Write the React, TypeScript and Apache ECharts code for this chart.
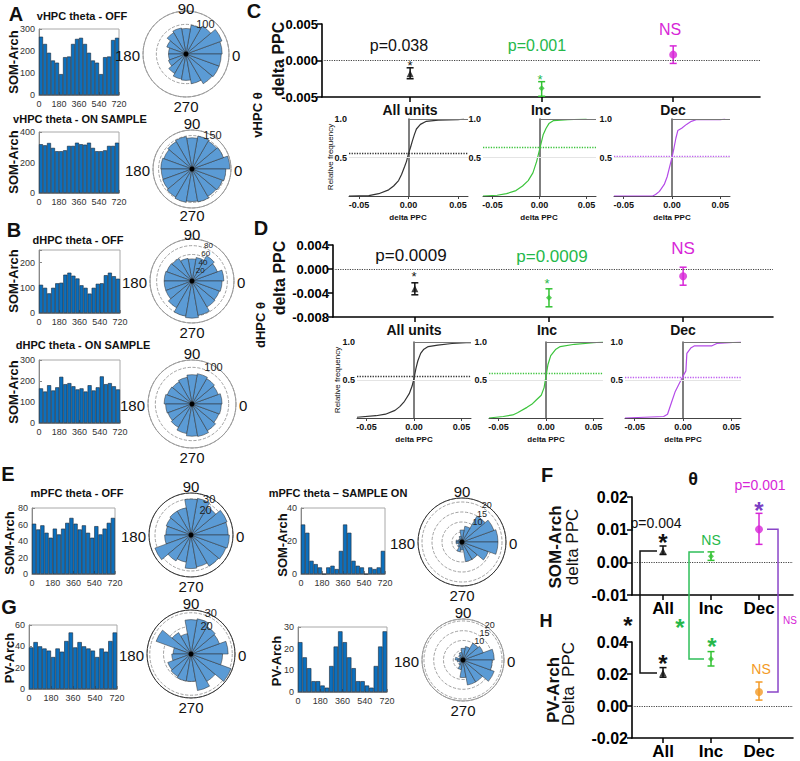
import React, { useEffect, useRef } from "react";
import * as echarts from "echarts";

const FONT = 'Arial, "Liberation Sans", Helvetica, sans-serif';

// ---------- histogram data (36° bins over 0-720) ----------
const binStarts = [0, 36, 72, 108, 144, 180, 216, 252, 288, 324, 360, 396, 432, 468, 504, 540, 576, 612, 648, 684];
const histA1 = [265, 232, 192, 157, 147, 95, 172, 175, 232, 255, 260, 232, 192, 157, 147, 95, 172, 175, 250, 260];
const histA2 = [320, 313, 328, 296, 274, 274, 280, 309, 309, 330, 320, 317, 330, 296, 274, 274, 280, 309, 309, 330];
const histB1 = [112, 100, 78, 100, 118, 120, 152, 160, 148, 137, 110, 100, 77, 100, 116, 118, 150, 160, 146, 136];
const histB2 = [165, 150, 180, 155, 170, 220, 185, 190, 175, 160, 165, 150, 180, 155, 170, 222, 185, 190, 175, 160];
const histE1 = [61, 54, 59, 50, 44, 55, 48, 55, 62, 68, 61, 54, 59, 50, 44, 58, 48, 55, 62, 68];
const histE2 = [30, 25, 8, 6, 4, 0, 4, 5, 3, 14, 30, 25, 8, 5, 4, 0, 4, 3, 4, 14];
const histG1 = [39, 44, 40, 38, 36, 30, 38, 35, 45, 53, 39, 44, 40, 38, 36, 30, 38, 35, 45, 53];
const histG2 = [23, 16, 11, 5, 5, 3, 2, 12, 21, 28, 23, 16, 11, 5, 5, 3, 2, 12, 21, 28];

// ---------- polar histogram data (20° bins) ----------
const roseBins = ["0", "20", "40", "60", "80", "100", "120", "140", "160", "180", "200", "220", "240", "260", "280", "300", "320", "340"];
const roseA1 = [122, 129, 109, 99, 86, 89, 83, 69, 59, 59, 63, 76, 86, 89, 102, 116, 119, 119];
const roseA2 = [170, 150, 145, 150, 140, 148, 142, 135, 140, 138, 140, 146, 152, 146, 150, 142, 146, 152];
const roseB1 = [72, 61, 66, 54, 50, 52, 59, 61, 63, 63, 63, 70, 81, 84, 79, 68, 66, 68];
const roseB2 = [82, 76, 80, 84, 80, 74, 70, 72, 76, 72, 70, 74, 82, 88, 90, 84, 78, 80];
const roseE1 = [31, 32, 27, 31, 30, 23, 23, 22, 21, 22, 32, 25, 23, 28, 27, 30, 31, 32];
const roseE2 = [18, 17, 15, 8, 6, 3, 2, 2, 3, 3, 2, 3, 5, 4, 10, 10, 14, 18];
const roseG1 = [27, 22, 23, 26, 25, 15, 18, 27, 13, 14, 18, 19, 20, 20, 27, 23, 31, 23];
const roseG2 = [16, 11, 10, 7, 6, 4, 3, 2, 4, 3, 2, 3, 5, 9, 13, 13, 17, 15];

// ---------- delta PPC summary (mean, lower, upper) ----------
const groups = ["All", "Inc", "Dec"];
const cMean = [-0.0018, -0.0038, 0.0008];
const cLo = [-0.0025, -0.0049, -0.0004];
const cHi = [-0.001, -0.0029, 0.002];
const dMean = [-0.0033, -0.0048, -0.0012];
const dLo = [-0.0043, -0.0063, -0.0027];
const dHi = [-0.0023, -0.0033, 0.0003];
const fMean = [0.0035, 0.0019, 0.0101];
const fLo = [0.0024, 0.0006, 0.0055];
const fHi = [0.005, 0.0032, 0.015];
const hMean = [0.0206, 0.0294, 0.0088];
const hLo = [0.018, 0.025, 0.0037];
const hHi = [0.024, 0.034, 0.015];

// ---------- cumulative distributions ----------
const cdfCAll = [[-0.06, 0], [-0.04, 0.005], [-0.03, 0.03], [-0.02, 0.08], [-0.015, 0.13], [-0.01, 0.2], [-0.007, 0.28], [-0.004, 0.38], [-0.002, 0.45], [0, 0.55], [0.002, 0.63], [0.004, 0.72], [0.006, 0.8], [0.008, 0.87], [0.012, 0.93], [0.018, 0.97], [0.03, 0.985], [0.05, 0.99], [0.056, 1]];
const cdfCInc = [[-0.06, 0], [-0.045, 0.01], [-0.035, 0.03], [-0.025, 0.07], [-0.018, 0.13], [-0.012, 0.2], [-0.007, 0.3], [-0.003, 0.45], [0, 0.6], [0.002, 0.7], [0.004, 0.8], [0.007, 0.88], [0.01, 0.94], [0.015, 0.98], [0.03, 0.99], [0.05, 1]];
const cdfCDec = [[-0.06, 0], [-0.02, 0], [-0.017, 0.02], [-0.013, 0.06], [-0.008, 0.15], [-0.005, 0.25], [-0.002, 0.4], [0, 0.5], [0.002, 0.62], [0.004, 0.75], [0.006, 0.85], [0.01, 0.88], [0.015, 0.93], [0.02, 0.97], [0.025, 0.99], [0.05, 0.99], [0.055, 1]];
const cdfDAll = [[-0.06, 0.01], [-0.04, 0.03], [-0.03, 0.05], [-0.02, 0.1], [-0.015, 0.15], [-0.01, 0.22], [-0.005, 0.32], [-0.002, 0.42], [0, 0.52], [0.002, 0.65], [0.004, 0.75], [0.007, 0.85], [0.01, 0.9], [0.015, 0.94], [0.025, 0.96], [0.04, 0.98], [0.055, 0.99], [0.06, 0.99]];
const cdfDInc = [[-0.06, 0], [-0.045, 0.02], [-0.035, 0.04], [-0.03, 0.07], [-0.02, 0.14], [-0.015, 0.18], [-0.01, 0.24], [-0.005, 0.3], [-0.002, 0.4], [0, 0.55], [0.002, 0.7], [0.005, 0.82], [0.01, 0.9], [0.015, 0.94], [0.03, 0.97], [0.05, 0.99], [0.06, 1]];
const cdfDDec = [[-0.06, 0], [-0.04, 0.01], [-0.02, 0.02], [-0.016, 0.05], [-0.012, 0.2], [-0.008, 0.35], [-0.004, 0.45], [0, 0.55], [0.003, 0.62], [0.004, 0.85], [0.008, 0.92], [0.012, 0.95], [0.03, 0.95], [0.035, 0.98], [0.06, 1]];
const medC = [0.55, 0.627, 0.523];
const medD = [0.553, 0.588, 0.535];
const cdfTicks = [-0.05, 0, 0.05];

const BLACK = "#111";
const GREEN = "#25b84a";
const GREEN_PT = "#33c233";
const MAGENTA = "#d726d7";
const PURPLE = "#8a45c8";
const ORANGE = "#f39a25";

export default function App() {
  const ref = useRef<HTMLDivElement>(null);
  useEffect(() => {
    const el = ref.current!;
    const chart = echarts.init(el, null, { renderer: "svg" });
    const grid: any[] = [];
    const xAxis: any[] = [];
    const yAxis: any[] = [];
    const series: any[] = [];
    const polar: any[] = [];
    const angleAxis: any[] = [];
    const radiusAxis: any[] = [];
    const graphic: any[] = [];

    const txt = (text: string, x: number, y: number, o: any = {}) => {
      graphic.push({
        type: "text", x, y, rotation: o.rot ? Math.PI / 2 : 0, z: 100, silent: true,
        style: {
          text, fill: o.color || BLACK, fontSize: o.size || 12, fontWeight: o.bold ? "bold" : "normal",
          fontFamily: FONT, align: o.align || "center", verticalAlign: "middle",
          textAlign: o.align || "center", textVerticalAlign: "middle",
        },
      });
    };

    const addHist = (box: any, data: number[], yMax: number, yInt: number, yTicks: number[]) => {
      const gi = grid.length;
      grid.push({ ...box, show: true, borderColor: "#a8a8a8", borderWidth: 1, backgroundColor: "transparent" });
      const xc = xAxis.length;
      xAxis.push({ gridIndex: gi, type: "category", data: binStarts.map(String), show: false, boundaryGap: true });
      xAxis.push({
        gridIndex: gi, type: "value", position: "bottom", min: 0, max: 720, interval: 180,
        axisLine: { show: true, onZero: false, lineStyle: { color: "#888" } },
        axisTick: { show: true, inside: true, length: 3, lineStyle: { color: "#888" } },
        axisLabel: { fontSize: 9, color: "#333", margin: 4, fontFamily: FONT },
        splitLine: { show: false },
      });
      const yi = yAxis.length;
      yAxis.push({
        gridIndex: gi, type: "value", min: 0, max: yMax, interval: yInt,
        axisLine: { show: true, onZero: false, lineStyle: { color: "#888" } },
        axisTick: { show: true, inside: true, length: 3, lineStyle: { color: "#888" } },
        axisLabel: { fontSize: 9, color: "#333", margin: 4, fontFamily: FONT, formatter: (v: number) => (yTicks.includes(v) ? String(v) : "") },
        splitLine: { show: false },
      });
      series.push({
        type: "bar", xAxisIndex: xc, yAxisIndex: yi, data, barCategoryGap: "0%", silent: true,
        itemStyle: { color: "#0b6fbd", borderColor: "#1b2838", borderWidth: 0.6 },
      });
    };

    const addRose = (cx: number, cy: number, r: number, max: number, interval: number, data: number[], rings: number[], circleColor: string,
      o: { ringSize?: number; ringAngle?: number; topOff?: number; botOff?: number } = {}) => {
      const pi = polar.length;
      polar.push({ center: [cx, cy], radius: r });
      angleAxis.push({
        polarIndex: pi, type: "category", data: roseBins, startAngle: 0, clockwise: false, boundaryGap: true,
        axisLine: { show: false }, axisTick: { show: false }, axisLabel: { show: false }, splitLine: { show: false },
      });
      radiusAxis.push({
        polarIndex: pi, type: "value", min: 0, max, interval,
        axisLine: { show: false }, axisTick: { show: false }, axisLabel: { show: false },
        splitLine: { show: true, lineStyle: { type: "dashed", color: "#8a8a8a", width: 0.8 } },
      });
      series.push({
        type: "bar", coordinateSystem: "polar", polarIndex: pi, data, barCategoryGap: "0%", silent: true,
        itemStyle: { color: "#5b9bd5", borderColor: "#2a2a2a", borderWidth: 0.5 },
      });
      graphic.push({ type: "circle", shape: { cx, cy, r }, style: { fill: "none", stroke: circleColor, lineWidth: 1 }, z: 90, silent: true });
      graphic.push({ type: "circle", shape: { cx, cy, r: 2.5 }, style: { fill: "#000" }, z: 91, silent: true });
      txt("90", cx, Math.max(cy - r - (o.topOff ?? 7), 8), { size: 15 });
      txt("270", cx, cy + r + (o.botOff ?? 9), { size: 15 });
      txt("180", cx - r - 3, cy + 1, { size: 15, align: "right" });
      txt("0", cx + r + 3, cy + 1, { size: 15, align: "left" });
      const a = ((o.ringAngle ?? 72) * Math.PI) / 180;
      rings.forEach((v) => {
        const rp = (r * v) / max;
        txt(String(v), cx + rp * Math.cos(a) + 1, cy - rp * Math.sin(a) - 2, { size: o.ringSize ?? 11, align: "left", color: "#222" });
      });
    };

    const addDots = (box: any, xMin: number, xMax: number, yMin: number, yMax: number, yInt: number, dec: number,
      means: number[], lo: number[], hi: number[], colors: string[], symbols: string[], sizes: number[], showX: boolean, labelSize: number) => {
      const gi = grid.length;
      grid.push({ ...box });
      const xi = xAxis.length;
      xAxis.push({
        gridIndex: gi, type: "value", min: xMin, max: xMax,
        axisLine: { show: true, onZero: false, lineStyle: { color: "#000", width: 1.6 } },
        axisTick: { show: true, customValues: [1, 2, 3], length: 5, lineStyle: { color: "#000", width: 1.5 } },
        axisLabel: { show: showX, customValues: [1, 2, 3], formatter: (v: number) => groups[Math.round(v) - 1] || "", fontSize: 17, fontWeight: "bold", color: "#000", margin: 5, fontFamily: FONT },
        splitLine: { show: false },
      });
      const yi = yAxis.length;
      yAxis.push({
        gridIndex: gi, type: "value", min: yMin, max: yMax, interval: yInt,
        axisLine: { show: true, onZero: false, lineStyle: { color: "#000", width: 1.6 } },
        axisTick: { show: true, length: 5, lineStyle: { color: "#000", width: 1.5 } },
        axisLabel: { formatter: (v: number) => (Math.abs(v) < 1e-12 ? 0 : v).toFixed(dec), fontSize: labelSize, fontWeight: "bold", color: "#000", margin: 4, fontFamily: FONT },
        splitLine: { show: false },
      });
      series.push({
        type: "scatter", xAxisIndex: xi, yAxisIndex: yi, z: 5, silent: true,
        data: means.map((m, i) => ({ value: [i + 1, m], symbol: symbols[i], symbolSize: sizes[i], itemStyle: { color: colors[i] } })),
        markLine: { silent: true, symbol: "none", label: { show: false }, lineStyle: { type: "dotted", color: "#444", width: 1.2 }, data: [{ yAxis: 0 }] },
      });
      series.push({
        type: "custom", xAxisIndex: xi, yAxisIndex: yi, z: 4, silent: true,
        encode: { x: 0, y: [1, 2] },
        data: means.map((_m, i) => [i + 1, lo[i], hi[i]]),
        renderItem: (params: any, api: any) => {
          const xv = api.value(0);
          const a = api.coord([xv, api.value(1)]);
          const b = api.coord([xv, api.value(2)]);
          const st = { stroke: colors[params.dataIndex], lineWidth: 1.5 };
          const w = 3.5;
          return {
            type: "group",
            children: [
              { type: "line", shape: { x1: a[0], y1: a[1], x2: b[0], y2: b[1] }, style: st },
              { type: "line", shape: { x1: a[0] - w, y1: a[1], x2: a[0] + w, y2: a[1] }, style: st },
              { type: "line", shape: { x1: b[0] - w, y1: b[1], x2: b[0] + w, y2: b[1] }, style: st },
            ],
          };
        },
      });
      return gi;
    };

    const addCdf = (box: any, data: number[][], color: string, dotColor: string, med: number) => {
      const gi = grid.length;
      grid.push({ ...box });
      const xi = xAxis.length;
      xAxis.push({
        gridIndex: gi, type: "value", min: -0.06, max: 0.06,
        axisLine: { show: true, onZero: true, lineStyle: { color: "#444", width: 1 } },
        axisTick: { show: true, customValues: cdfTicks, length: 3, lineStyle: { color: "#444" } },
        axisLabel: { customValues: cdfTicks, formatter: (v: number) => (Math.abs(v) < 1e-12 ? 0 : v).toFixed(2), fontSize: 9, fontWeight: "bold", color: "#111", margin: 4, fontFamily: FONT },
        splitLine: { show: false },
      });
      const yi = yAxis.length;
      yAxis.push({
        gridIndex: gi, type: "value", min: 0, max: 1, interval: 0.5,
        axisLine: { show: true, onZero: true, lineStyle: { color: "#555", width: 1.5 } },
        axisTick: { show: false },
        axisLabel: { formatter: (v: number) => (v === 0 ? "" : v.toFixed(1)), fontSize: 9, fontWeight: "bold", color: "#111", margin: 2, fontFamily: FONT },
        splitLine: { show: false },
      });
      series.push({
        type: "line", xAxisIndex: xi, yAxisIndex: yi, data, showSymbol: false, symbol: "none", silent: true,
        lineStyle: { color, width: 1.2 },
        markLine: {
          silent: true, symbol: "none", label: { show: false },
          data: [
            { yAxis: med, lineStyle: { type: "dotted", color: dotColor, width: 1.3 } },
            { yAxis: 0.5, lineStyle: { type: "solid", color: "#e4e4e4", width: 1 } },
            [{ coord: [0, 1], lineStyle: { type: "solid", color: "#777", width: 1 } }, { coord: [0.06, 1] }],
          ],
        },
      });
    };

    // ---------- panel A ----------
    addHist({ left: 39, top: 29, width: 80, height: 66 }, histA1, 300, 100, [0, 100, 200, 300]);
    addHist({ left: 39, top: 132, width: 80, height: 61 }, histA2, 400, 200, [0, 200, 400]);
    addRose(186, 54, 43, 145, 100, roseA1, [100], "#9a9a9a");
    addRose(192, 169, 39, 175, 150, roseA2, [150], "#9a9a9a", { botOff: 7 });
    // ---------- panel B ----------
    addHist({ left: 39, top: 250, width: 81, height: 63 }, histB1, 250, 100, [0, 100, 200]);
    addHist({ left: 39, top: 360, width: 81, height: 63 }, histB2, 300, 100, [0, 100, 200, 300]);
    addRose(192, 281, 42, 95, 20, roseB1, [20, 40, 60, 80], "#9a9a9a", { ringSize: 8, topOff: 5 });
    addRose(192, 404, 44, 120, 100, roseB2, [100], "#9a9a9a");
    // ---------- panels E, G ----------
    addHist({ left: 32, top: 508, width: 83, height: 66 }, histE1, 80, 20, [0, 20, 40, 60, 80]);
    addHist({ left: 301, top: 508, width: 84, height: 66 }, histE2, 40, 20, [0, 20, 40]);
    addHist({ left: 29, top: 625, width: 88, height: 64 }, histG1, 60, 20, [0, 20, 40, 60]);
    addHist({ left: 298, top: 627, width: 89, height: 65 }, histG2, 30, 10, [0, 10, 20, 30]);
    addRose(191, 535, 42, 35, 10, roseE1, [20, 30], "#333");
    addRose(462, 542, 44, 22, 5, roseE2, [10, 15, 20], "#333", { ringSize: 9, ringAngle: 62 });
    addRose(191, 654, 44, 32, 10, roseG1, [20, 30], "#333");
    addRose(463, 660, 41, 21, 5, roseG2, [10, 15, 20], "#999", { ringSize: 9, ringAngle: 58 });

    // ---------- panels C, D ----------
    const ptCols = [BLACK, GREEN_PT, MAGENTA];
    const ptSym = ["triangle", "diamond", "circle"];
    const ptSize = [7, 6, 8];
    addDots({ left: 322, top: 24, width: 438, height: 73 }, 0.33, 3.66, -0.005, 0.005, 0.005, 3, cMean, cLo, cHi, ptCols, ptSym, ptSize, false, 13);
    addDots({ left: 333, top: 245, width: 440, height: 72 }, 0.39, 3.67, -0.008, 0.004, 0.004, 3, dMean, dLo, dHi, ptCols, ptSym, ptSize, false, 13);
    addCdf({ left: 349, top: 119, width: 119, height: 77 }, cdfCAll, "#333", "#333", medC[0]);
    addCdf({ left: 483, top: 119, width: 113, height: 77 }, cdfCInc, "#3cc43c", "#3cc43c", medC[1]);
    addCdf({ left: 614, top: 119, width: 116, height: 77 }, cdfCDec, "#b44ae8", "#c060f0", medC[2]);
    addCdf({ left: 357, top: 342, width: 114, height: 76 }, cdfDAll, "#333", "#333", medD[0]);
    addCdf({ left: 489, top: 342, width: 114, height: 76 }, cdfDInc, "#3cc43c", "#3cc43c", medD[1]);
    addCdf({ left: 625, top: 342, width: 116, height: 76 }, cdfDDec, "#b44ae8", "#c060f0", medD[2]);

    // ---------- panels F, H ----------
    const gF = addDots({ left: 632, top: 497, width: 161, height: 98 }, 0.354, 3.708, -0.01, 0.02, 0.01, 2, fMean, fLo, fHi, [BLACK, GREEN_PT, MAGENTA], ptSym, ptSize, true, 16);
    const gH = addDots({ left: 632, top: 642, width: 161, height: 96 }, 0.354, 3.708, -0.02, 0.04, 0.02, 2, hMean, hLo, hHi, [BLACK, GREEN_PT, ORANGE], ptSym, ptSize, true, 16);

    // ---------- texts ----------
    txt("A", 16, 14, { size: 20, bold: true });
    txt("B", 14, 230, { size: 20, bold: true });
    txt("C", 254, 11, { size: 20, bold: true });
    txt("D", 261, 228, { size: 20, bold: true });
    txt("E", 8, 474, { size: 20, bold: true });
    txt("G", 9, 607, { size: 20, bold: true });
    txt("F", 547, 475, { size: 20, bold: true });
    txt("H", 546, 621, { size: 18, bold: true });

    txt("vHPC theta - OFF", 82, 16, { size: 11, bold: true });
    txt("vHPC theta - ON SAMPLE", 80, 119, { size: 11, bold: true });
    txt("dHPC theta - OFF", 78, 240, { size: 11, bold: true });
    txt("dHPC theta - ON SAMPLE", 83, 345, { size: 11, bold: true });
    txt("mPFC theta - OFF", 77, 493, { size: 11, bold: true });
    txt("mPFC theta \u2013 SAMPLE ON", 338, 493, { size: 11, bold: true });

    txt("SOM-Arch", 13, 62, { size: 13, bold: true, rot: true });
    txt("SOM-Arch", 13, 162, { size: 13, bold: true, rot: true });
    txt("SOM-Arch", 13, 281, { size: 13, bold: true, rot: true });
    txt("SOM-Arch", 13, 392, { size: 13, bold: true, rot: true });
    txt("SOM-Arch", 9, 543, { size: 13, bold: true, rot: true });
    txt("SOM-Arch", 282, 545, { size: 13, bold: true, rot: true });
    txt("PV-Arch", 9, 658, { size: 13, bold: true, rot: true });
    txt("PV-Arch", 276, 661, { size: 13, bold: true, rot: true });

    txt("delta PPC", 278, 59, { size: 16, bold: true, rot: true });
    txt("vHPC \u03b8", 257, 115, { size: 13, bold: true, rot: true });
    txt("delta PPC", 279, 278, { size: 16, bold: true, rot: true });
    txt("dHPC \u03b8", 260, 325, { size: 13, bold: true, rot: true });

    txt("p=0.038", 399, 45, { size: 16 });
    txt("*", 410, 65, { size: 13 });
    txt("p=0.001", 537, 45, { size: 16, color: GREEN });
    txt("*", 540, 79, { size: 13, color: GREEN });
    txt("NS", 670, 29, { size: 16, color: MAGENTA });
    txt("p=0.0009", 411, 255, { size: 17 });
    txt("*", 414, 276, { size: 13 });
    txt("p=0.0009", 552, 256, { size: 17, color: GREEN });
    txt("*", 547, 283, { size: 13, color: GREEN });
    txt("NS", 683, 248, { size: 17, color: MAGENTA });

    [["All units", 410], ["Inc", 541], ["Dec", 673]].forEach(([t, x]) => txt(t as string, x as number, 110, { size: 14, bold: true }));
    [["All units", 414], ["Inc", 547], ["Dec", 683]].forEach(([t, x]) => txt(t as string, x as number, 330, { size: 14, bold: true }));
    [408, 539, 672].forEach((x) => txt("delta PPC", x, 217, { size: 8, bold: true }));
    [414, 546, 683].forEach((x) => txt("delta PPC", x, 439, { size: 8, bold: true }));
    txt("Relative frequency", 330, 157, { size: 8, rot: true });
    txt("Relative frequency", 337, 380, { size: 8, rot: true });

    txt("SOM-Arch", 555, 547, { size: 17, bold: true, rot: true });
    txt("delta PPC", 572, 547, { size: 17, rot: true });
    txt("PV-Arch", 553, 690, { size: 17, bold: true, rot: true });
    txt("Delta  PPC", 568, 684, { size: 17, rot: true });

    txt("\u03b8", 693, 479, { size: 18, bold: true });
    txt("p=0.004", 656, 523, { size: 14 });
    txt("*", 663, 542, { size: 24, bold: true });
    txt("NS", 711, 540, { size: 14, color: GREEN });
    txt("p=0.001", 760, 485, { size: 14, color: MAGENTA });
    txt("*", 759, 510, { size: 24, bold: true, color: "#7b3fc4" });
    txt("*", 663, 663, { size: 24, bold: true });
    txt("*", 712, 646, { size: 24, bold: true, color: GREEN });
    txt("NS", 761, 669, { size: 14, color: ORANGE });
    txt("*", 628, 625, { size: 24, bold: true });
    txt("*", 680, 627, { size: 24, bold: true, color: GREEN });
    txt("NS", 790, 620, { size: 10, color: MAGENTA });

    chart.setOption({
      animation: false,
      backgroundColor: "#fff",
      textStyle: { fontFamily: FONT },
      grid, xAxis, yAxis, polar, angleAxis, radiusAxis, series,
      graphic: { elements: graphic },
    });

    // brackets linking F and H points, positioned through the axes
    const px = (gi: number, p: number[]) => chart.convertToPixel({ gridIndex: gi } as any, p) as unknown as number[];
    const bracket = (top: number[], bot: number[], side: number, end: number, color: string) => ({
      type: "polyline", z: 95, silent: true,
      shape: { points: [[top[0] + end, top[1]], [top[0] + side, top[1]], [top[0] + side, bot[1]], [bot[0] + end, bot[1]]] },
      style: { stroke: color, lineWidth: 1.5, fill: "none" },
    });
    const fA = px(gF, [1, fMean[0]]), hA = px(gH, [1, hMean[0]]);
    const fI = px(gF, [2, fHi[1]]), hI = px(gH, [2, hMean[1]]);
    const fD = px(gF, [3, fMean[2]]), hD = px(gH, [3, hMean[2]]);
    const extra = [
      bracket(fA, hA, -23, -6, BLACK),
      bracket(fI, hI, -22, -7, "#2fbf5a"),
      bracket(fD, hD, 19, 8, PURPLE),
    ];
    chart.setOption({ graphic: { elements: [...graphic, ...extra] } }, { replaceMerge: ["graphic"] } as any);

    return () => chart.dispose();
  }, []);
  return <div ref={ref} style={{ position: "fixed", left: 0, top: 0, width: 800, height: 761, background: "#fff" }} />;
}
